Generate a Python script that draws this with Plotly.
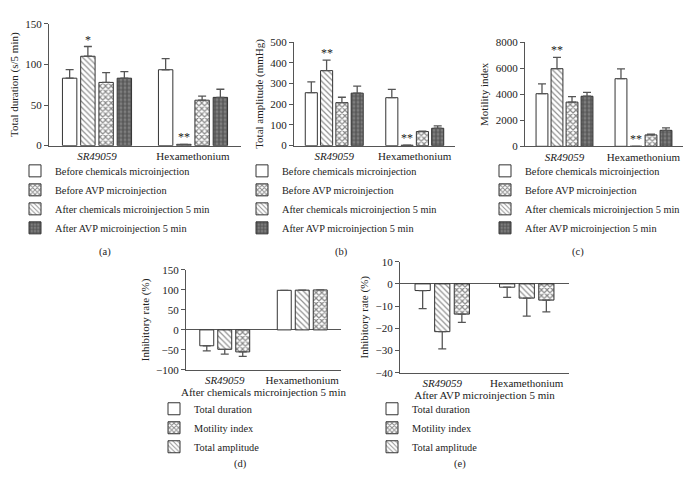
import plotly.graph_objects as go

# ---------------- data ----------------
groups = ["SR49059", "Hexamethonium"]
group_labels = ["<i>SR49059</i>", "Hexamethonium"]

series_abc = ["Before chemicals microinjection", "After chemicals microinjection 5 min",
              "Before AVP microinjection", "After AVP microinjection 5 min"]
legend_rank_abc = [1, 3, 2, 4]

# panel (a) Total duration (s/5 min)
a_vals = [[83, 93.4], [110, 1.6], [77.8, 55.9], [83, 59.4]]
a_errs = [[10.5, 13.6], [12, 0], [12, 5.1], [8, 10]]
# panel (b) Total amplitude (mmHg)
b_vals = [[256, 232], [363, 2], [208, 68], [254, 84]]
b_errs = [[52, 40], [51, 0], [26, 2], [34, 12]]
# panel (c) Motility index
c_vals = [[4045, 5198], [5970, 0], [3400, 876], [3850, 1228]]
c_errs = [[750, 750], [876, 0], [420, 50], [300, 195]]

series_de = ["Total duration", "Total amplitude", "Motility index"]
legend_rank_de = [1, 3, 2]
# panel (d) Inhibitory rate, after chemicals microinjection 5 min
d_vals = [[-39.7, 99], [-48.6, 99.5], [-55, 100]]
d_errs = [[13, 0], [12, 0], [11, 0]]
# panel (e) Inhibitory rate, after AVP microinjection 5 min
e_vals = [[-3, -1.5], [-21.5, -6.4], [-13.6, -7.3]]
e_errs = [[8.1, 4.6], [7.7, 8.1], [3.7, 5.3]]

# ---------------- style ----------------
FONT = "Liberation Serif"
TXT = "#222"
AX = "#555"
PAT_WHITE = dict(shape="", bgcolor="white")
PAT_HATCH = dict(shape="\\", fgcolor="#222", bgcolor="white", size=4, solidity=0.3)
PAT_CHECK = dict(shape="x", fgcolor="#111", bgcolor="white", size=4, solidity=0.5)
PAT_DARK = dict(shape=".", fgcolor="#2a2a2a", bgcolor="#8a8a8a", size=4, solidity=0.7)
pats_abc = [PAT_WHITE, PAT_HATCH, PAT_CHECK, PAT_DARK]
pats_de = [PAT_WHITE, PAT_HATCH, PAT_CHECK]

fig = go.Figure()


def add_panel(vals, errs, names, pats, ranks, xa, ya, legend, bar_w, slot):
    n = len(vals)
    for k in range(n):
        up = [e if v >= 0 else 0 for v, e in zip(vals[k], errs[k])]
        dn = [e if v < 0 else 0 for v, e in zip(vals[k], errs[k])]
        fig.add_trace(go.Bar(
            x=groups, y=vals[k], name=names[k],
            xaxis=xa, yaxis=ya, legend=legend, legendrank=ranks[k],
            width=bar_w, offset=(k - n / 2) * slot + (slot - bar_w) / 2,
            marker=dict(color="white", pattern=pats[k], line=dict(color="#333", width=1)),
            error_y=dict(type="data", symmetric=False, array=up, arrayminus=dn,
                         color=AX, thickness=1.3, width=4),
        ))


SLOT4, W4 = 0.19, 0.15
SLOT3, W3 = 0.232, 0.18
add_panel(a_vals, a_errs, series_abc, pats_abc, legend_rank_abc, "x", "y", "legend", W4, SLOT4)
add_panel(b_vals, b_errs, series_abc, pats_abc, legend_rank_abc, "x2", "y2", "legend2", W4, SLOT4)
add_panel(c_vals, c_errs, series_abc, pats_abc, legend_rank_abc, "x3", "y3", "legend3", W4, SLOT4)
add_panel(d_vals, d_errs, series_de, pats_de, legend_rank_de, "x4", "y4", "legend4", W3, SLOT3)
add_panel(e_vals, e_errs, series_de, pats_de, legend_rank_de, "x5", "y5", "legend5", W3, SLOT3)

tickfont = dict(family=FONT, size=11, color=TXT)
titlefont = dict(family=FONT, size=11, color=TXT)


def xaxis(dom, anchor, title=None):
    d = dict(domain=dom, anchor=anchor, type="category", range=[-0.5, 1.5],
             tickvals=groups, ticktext=group_labels, ticks="", showline=True,
             linecolor=AX, linewidth=1, tickfont=tickfont, showgrid=False, zeroline=False)
    if title:
        d["title"] = dict(text=title, font=titlefont, standoff=3)
    return d


def yaxis(dom, anchor, rng, dtick, title, zero):
    return dict(domain=dom, anchor=anchor, range=rng, dtick=dtick, ticks="outside",
                ticklen=4, tickcolor=AX, showline=True, linecolor=AX, linewidth=1,
                tickfont=tickfont, showgrid=False, zeroline=zero, zerolinecolor=AX,
                zerolinewidth=1, title=dict(text=title, font=titlefont, standoff=4))


W, H = 693, 480
px = lambda a, b: [a / W, b / W]
py = lambda top, bot: [1 - bot / H, 1 - top / H]

legfont = dict(family=FONT, size=10.3, color=TXT)


def legend(xp, yp):
    return dict(x=xp / W, y=1 - yp / H, xanchor="left", yanchor="top", font=legfont,
                bgcolor="rgba(0,0,0,0)", borderwidth=0, tracegroupgap=0,
                itemclick=False, itemdoubleclick=False)


fig.update_layout(
    width=W, height=H, margin=dict(l=0, r=0, t=0, b=0),
    paper_bgcolor="white", plot_bgcolor="white", showlegend=True,
    font=dict(family=FONT, color=TXT),
    xaxis=xaxis(px(41, 233), "y"),
    yaxis=yaxis(py(10, 135), "x", [0, 150], 50, "Total duration (s/5 min)", False),
    xaxis2=xaxis(px(286, 447), "y2"),
    yaxis2=yaxis(py(29, 135), "x2", [0, 500], 100, "Total amplitude (mmHg)", False),
    xaxis3=xaxis(px(517, 675), "y3"),
    yaxis3=yaxis(py(29, 135.7), "x3", [0, 8000], 2000, "Motility index", False),
    xaxis4=xaxis(px(178, 333), "y4", "After chemicals microinjection 5 min"),
    yaxis4=yaxis(py(262.5, 365), "x4", [-100, 150], 50, "Inhibitory rate (%)", True),
    xaxis5=xaxis(px(392, 561), "y5", "After AVP microinjection 5 min"),
    yaxis5=yaxis(py(254, 368), "x5", [-40, 10], 10, "Inhibitory rate (%)", True),
    legend=legend(7, 146),
    legend2=legend(234, 146),
    legend3=legend(477, 146),
    legend4=legend(146, 390),
    legend5=legend(364, 390),
)

# significance marks (above the "After chemicals microinjection 5 min" bars)
star_x = 0 + (1 - 4 / 2) * SLOT4 + SLOT4 / 2  # 2nd bar of the group
stars = [("x", "y", a_vals, a_errs, ["*", "**"]),
         ("x2", "y2", b_vals, b_errs, ["**", "**"]),
         ("x3", "y3", c_vals, c_errs, ["**", "**"])]
for xa, ya, vals, errs, marks in stars:
    for gi, m in enumerate(marks):
        fig.add_annotation(x=gi + star_x, y=vals[1][gi] + errs[1][gi], xref=xa, yref=ya,
                           text=m, showarrow=False, yanchor="bottom", yshift=-2,
                           font=dict(family=FONT, size=12, color="#222"))

for lab, xp, yp in [("(a)", 89, 244), ("(b)", 333, 244), ("(c)", 578, 244),
                    ("(d)", 232, 470), ("(e)", 452, 470)]:
    fig.add_annotation(x=xp / W, y=1 - yp / H, xref="paper", yref="paper", text=lab,
                       showarrow=False, font=dict(family=FONT, size=10.5, color=TXT))

fig.write_html("out.html")
